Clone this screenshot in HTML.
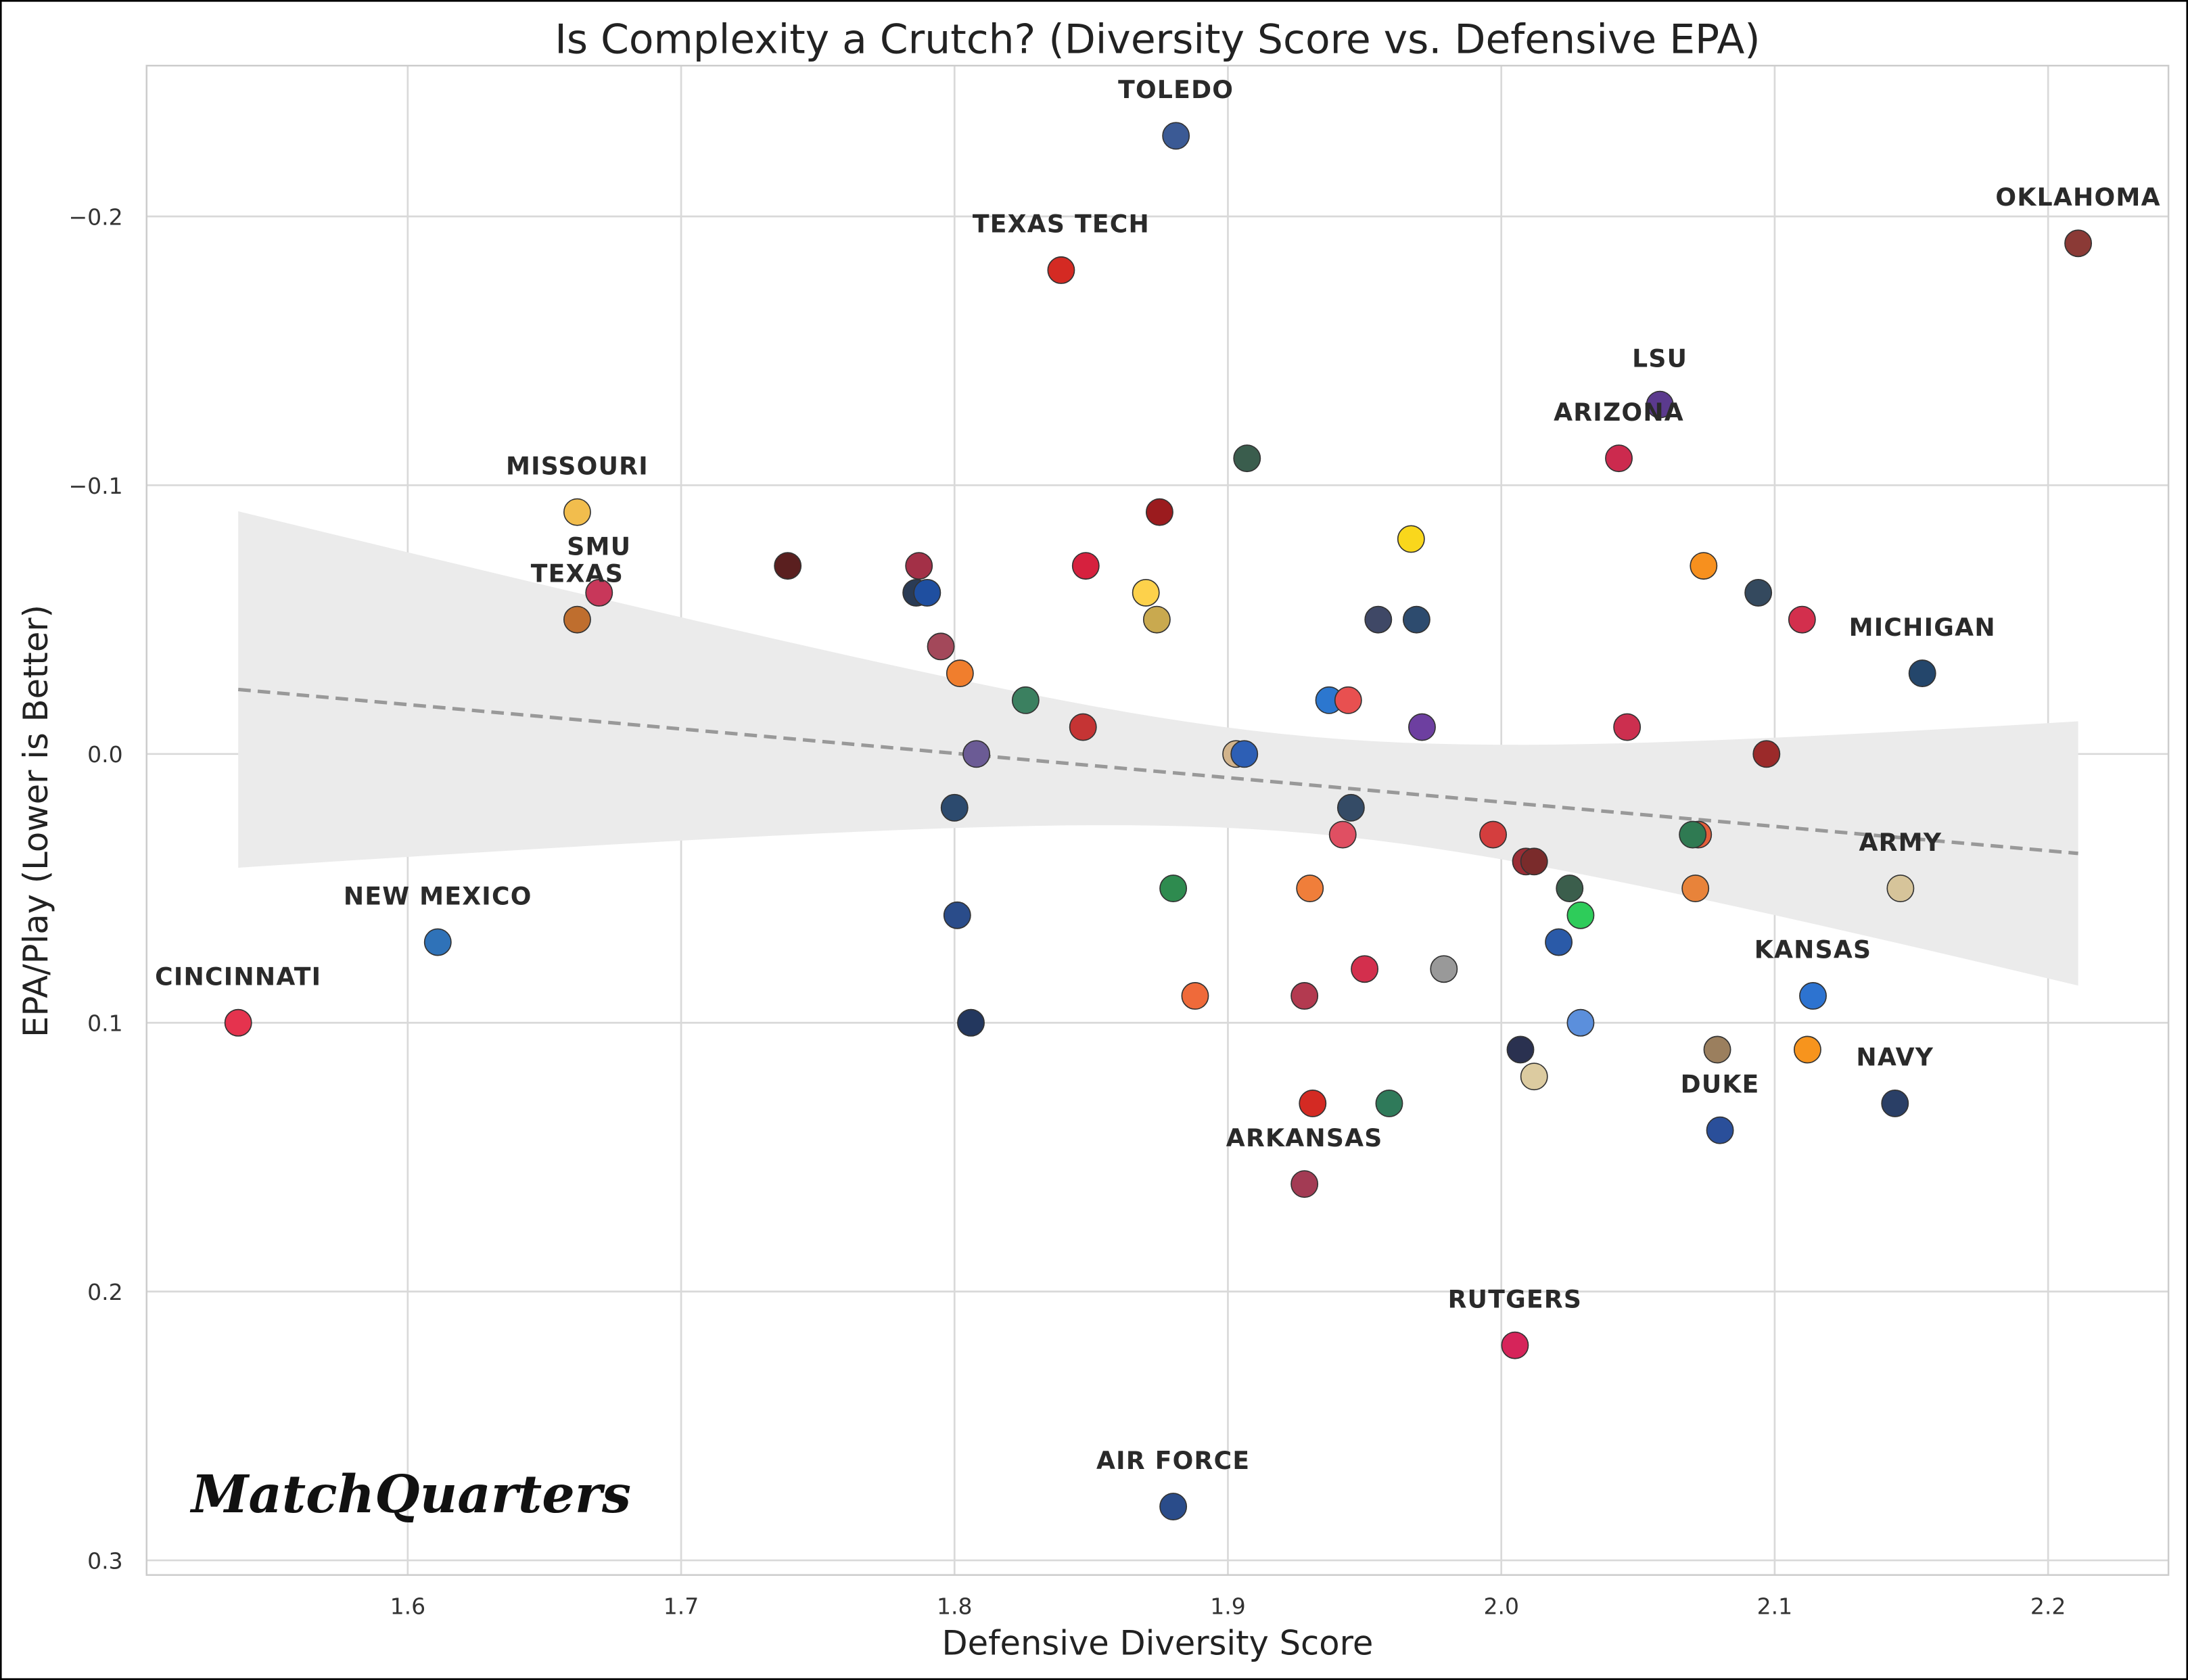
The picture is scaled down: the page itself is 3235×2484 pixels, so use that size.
<!DOCTYPE html>
<html><head><meta charset="utf-8">
<style>
html,body{margin:0;padding:0;background:#fff;}
svg{display:block;}
text{font-family:"DejaVu Sans","Liberation Sans",sans-serif;}
</style></head>
<body>
<svg id="chart" width="3235" height="2484" viewBox="0 0 1567 1203.2" xmlns="http://www.w3.org/2000/svg">
<rect x="0.5" y="0.5" width="1566" height="1202.2" fill="#fff" stroke="#000" stroke-width="1.5"/>
<text x="829" y="38" font-size="29" text-anchor="middle" fill="#222">Is Complexity a Crutch? (Diversity Score vs. Defensive EPA)</text>
<g id="grid"></g>
<g id="band"></g>
<g id="pts"></g>
<g id="labels"></g>
<rect x="105" y="47" width="1448" height="1081" fill="none" stroke="#ccc" stroke-width="1.2"/>
<text x="829" y="1185" font-size="24" text-anchor="middle" fill="#222">Defensive Diversity Score</text>
<text x="0" y="0" font-size="24" text-anchor="middle" fill="#222" transform="translate(34,588) rotate(-90)">EPA/Play (Lower is Better)</text>
<text x="137" y="1083" font-size="37" font-weight="bold" font-style="italic" fill="#111" style="font-family:'DejaVu Serif','Liberation Serif',serif">MatchQuarters</text>
</svg>
<script>
const xTicks=[1.6,1.7,1.8,1.9,2.0,2.1,2.2];
const yTicks=[-0.2,-0.1,0.0,0.1,0.2,0.3];
const yTickLabels=["\u22120.2","\u22120.1","0.0","0.1","0.2","0.3"];
const xs=[1.881,1.839,2.211,2.058,2.043,1.907,1.662,1.875,1.967,1.670,1.662,1.739,1.787,1.786,1.790,1.848,1.870,1.874,2.074,2.094,2.110,1.955,1.969,2.154,1.795,1.802,1.826,1.937,1.944,1.847,1.971,2.046,2.097,1.903,1.906,1.808,1.800,1.945,1.942,1.997,2.072,2.070,2.009,2.012,2.025,2.071,2.146,1.880,1.930,2.029,1.801,1.611,2.021,1.950,1.979,1.538,1.888,1.928,2.114,1.806,2.029,2.007,2.079,2.112,2.012,1.931,1.959,2.144,2.080,1.928,2.005,1.880];
const ys=[-0.230,-0.180,-0.190,-0.130,-0.110,-0.110,-0.090,-0.090,-0.080,-0.060,-0.050,-0.070,-0.070,-0.060,-0.060,-0.070,-0.060,-0.050,-0.070,-0.060,-0.050,-0.050,-0.050,-0.030,-0.040,-0.030,-0.020,-0.020,-0.020,-0.010,-0.010,-0.010,0.000,0.000,0.000,0.000,0.020,0.020,0.030,0.030,0.030,0.030,0.040,0.040,0.050,0.050,0.050,0.050,0.050,0.060,0.060,0.070,0.070,0.080,0.080,0.100,0.090,0.090,0.090,0.100,0.100,0.110,0.110,0.110,0.120,0.130,0.130,0.130,0.140,0.160,0.220,0.280];
const colors=["#3b5a95","#d42a23","#8b3a36","#5b3a8e","#cc2a4e","#3a5d4d","#f2bd4d","#9b1b1e","#f9d71c","#c8375a","#bf6e2e","#5a1f1f","#a33047","#2a3b55","#1f4fa0","#d6213e","#fdd14b","#c9a94f","#f7901e","#34495e","#d32f4d","#3f4866","#2d4b6e","#24466b","#a3485a","#f07e2d","#3b8060","#2c77cf","#e85050","#c53434","#6d3fa0","#cc2f4f","#9b2a2a","#d2b48c","#2d5fb5","#6b5b95","#2c4a6e","#344b66","#e04f62","#d43e3e","#e55e3a","#2f7a52","#9b2d35","#7a2b2b","#3b5e4c","#e8833a","#d6c49a","#2e8b4f","#f07e3a","#2ecc5a","#2a4c8a","#2f72b8","#2a5aa8","#d32f4d","#999999","#e5334e","#ef6a3a","#b33a50","#2d73d0","#23375e","#5b8fdc","#2a3150","#9b7f5e","#f7941d","#dccba0","#d42a23","#2f7a5a","#2a3f66","#2a4f9a","#a33b54","#d6245a","#2a4c8a"];
const names=["TOLEDO","TEXAS TECH","OKLAHOMA","LSU","ARIZONA","","MISSOURI","","","SMU","TEXAS","","","","","","","","","","","","","MICHIGAN","","","","","","","","","","","","","","","","","","","","","","","ARMY","","","","","NEW MEXICO","","","","CINCINNATI","","","KANSAS","","","","","","","","","NAVY","DUKE","ARKANSAS","RUTGERS","AIR FORCE"];
const fitX=[1.538,2.211];
const fitY=[-0.024,0.037];
const NS="http://www.w3.org/2000/svg";
function X(v){return 292+(v-1.6)*1958;}
function Y(v){return 540+v*1925;}
function mk(tag,attrs,parent){const e=document.createElementNS(NS,tag);for(const k in attrs)e.setAttribute(k,attrs[k]);parent.appendChild(e);return e;}
const grid=document.getElementById('grid');
xTicks.forEach((t,i)=>{
 const l=mk('line',{x1:X(t),x2:X(t),y1:47,y2:1128,stroke:'#d9d9d9','stroke-width':1.3},grid);
 
 
 const tx=mk('text',{x:X(t),y:1156,'font-size':16,'text-anchor':'middle',fill:'#333'},grid);
 tx.textContent=t.toFixed(1);
 
 
});
yTicks.forEach((t,i)=>{
 const l=mk('line',{x1:105,x2:1553,y1:Y(t),y2:Y(t),stroke:'#d9d9d9','stroke-width':1.3},grid);
 
 
 const tx=mk('text',{x:88,y:Y(t)+6,'font-size':16,'text-anchor':'end',fill:'#333'},grid);
 tx.textContent=yTickLabels[i];
 
 
});
const slope=(fitY[1]-fitY[0])/(fitX[1]-fitX[0]);
function fy(x){return fitY[0]+slope*(x-fitX[0]);}
function hw(x){return Math.sqrt(0.000324+0.0265*(x-1.93)*(x-1.93));}
const band=document.getElementById('band');
const bandTop=[],bandBot=[];
for(let i=0;i<=60;i++){const x=fitX[0]+(fitX[1]-fitX[0])*i/60;bandTop.push(X(x)+','+Y(fy(x)-hw(x)));bandBot.push(X(x)+','+Y(fy(x)+hw(x)));}
const poly=mk('polygon',{points:bandTop.concat(bandBot.reverse()).join(' '),fill:'#ebebeb'},band);


const pts=document.getElementById('pts');
xs.forEach((x,i)=>{
 const c=mk('circle',{cx:X(x),cy:Y(ys[i]),r:9.5,fill:colors[i],stroke:'#333','stroke-width':0.8},pts);
 
 
});
const rl=mk('line',{x1:X(fitX[0]),y1:Y(fitY[0]),x2:X(fitX[1]),y2:Y(fitY[1]),stroke:'#999','stroke-width':2.5,'stroke-dasharray':'9,5'},band);


const labels=document.getElementById('labels');
names.forEach((n,i)=>{
 if(!n)return;
 const t=mk('text',{x:X(xs[i]),y:Y(ys[i])-27,'font-size':17.5,'font-weight':'bold','text-anchor':'middle',fill:'#2a2a2a','letter-spacing':'0.6'},labels);
 t.textContent=n;
 
 
});
</script>
</body></html>
